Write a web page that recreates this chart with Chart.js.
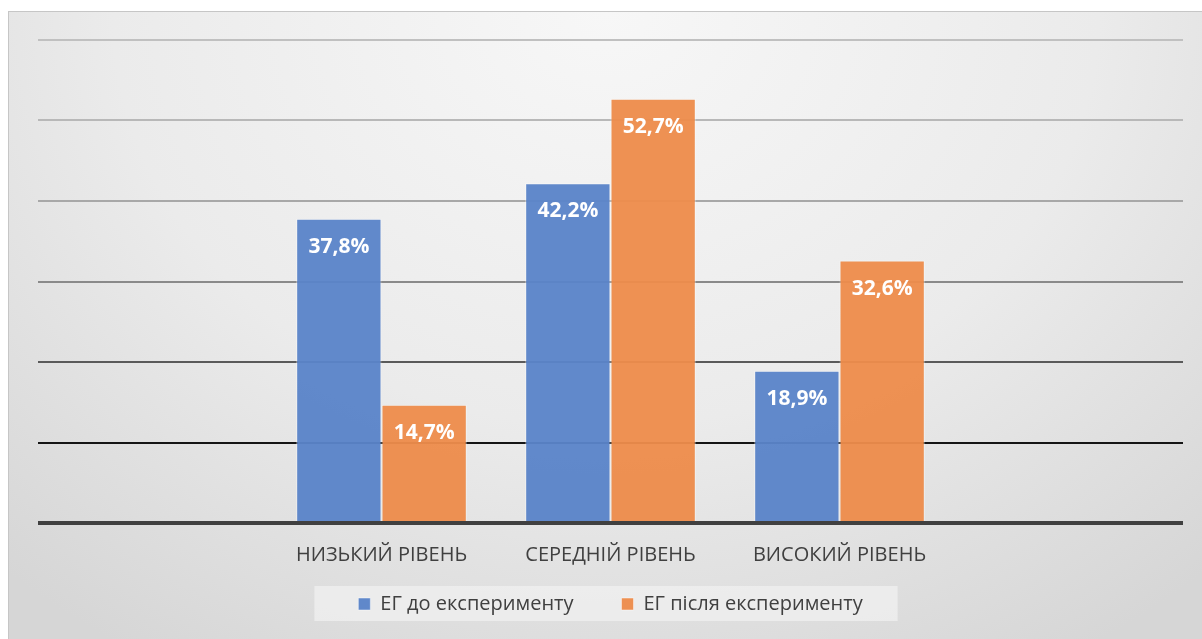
<!DOCTYPE html>
<html>
<head>
<meta charset="utf-8">
<script src="https://cdn.jsdelivr.net/npm/chart.js@4"></script>
<style>
  body { margin: 0; background: #fff; overflow: hidden; }
  #box {
    position: absolute; left: 8px; top: 11px; width: 1194px; height: 628px; overflow: hidden;
    border-left: 1px solid #c6c6c6; border-top: 1px solid #c6c6c6;
    background: radial-gradient(ellipse 75% 120% at 50% 0%, #f7f7f7 0%, #ebebeb 55%, #d6d6d6 100%);
  }
  #chart { display: block; }
</style>
</head>
<body>
<div id="box"><canvas id="chart" width="1193" height="645"></canvas></div>
<script>
const ctx = document.getElementById("chart").getContext("2d");

// категорії (крайні порожні, як у вихідній діаграмі)
const categories = ["", "НИЗЬКИЙ РІВЕНЬ", "СЕРЕДНІЙ РІВЕНЬ", "ВИСОКИЙ РІВЕНЬ", ""];
const seriesNames = ["ЕГ до експерименту", "ЕГ після експерименту"];
const before = [null, 37.8, 42.2, 18.9, null];
const after = [null, 14.7, 52.7, 32.6, null];
const yTicks = [0, 10, 20, 30, 40, 50, 60];

const gridColors = {0: '#404040', 10: '#151515', 20: '#5a5a5a', 30: '#8a8a8a', 40: '#a8a8a8', 50: '#b8b8b8', 60: '#c0c0c0'};

const legendPad = 48;
const legendShift = 33; // підняти легенду ближче до підписів осі

// підписи значень усередині стовпців
const labelsPlugin = {
    id: 'barLabels',
    afterDatasetsDraw(chart) {
        const c = chart.ctx;
        c.save();
        c.fillStyle = '#ffffff';
        c.font = 'bold 21px "Open Sans", sans-serif';
        c.textAlign = 'center';
        c.textBaseline = 'middle';
        chart.data.datasets.forEach((ds, i) => {
            chart.getDatasetMeta(i).data.forEach((bar, j) => {
                if (ds.data[j] == null) return;
                c.fillText(ds.data[j].toFixed(1).replace('.', ',') + '%', bar.x, bar.y + 28);
            });
        });
        c.restore();
    }
};

// легенда: зсув вгору + світлий фон
const legendBg = {
    id: 'legendBg',
    afterLayout(chart) {
        chart.legend.top -= legendShift;
        chart.legend.bottom -= legendShift;
    },
    beforeDraw(chart) {
        const lg = chart.legend;
        if (!lg || !lg.legendHitBoxes.length) return;
        const boxes = lg.legendHitBoxes;
        const first = boxes[0], last = boxes[boxes.length - 1];
        const cy = lg.top + legendPad + 10;
        const c = chart.ctx;
        c.save();
        c.fillStyle = 'rgba(240,240,240,0.75)';
        const x0 = first.left - 44, x1 = last.left + last.width + 35;
        c.fillRect(x0, cy - 18, x1 - x0, 35);
        c.restore();
    }
};

const data = {
    labels: categories,
    datasets: [
        {
            label: seriesNames[0],
            data: before,
            backgroundColor: 'rgba(91,132,201,0.96)',
            borderColor: 'rgba(255,255,255,0.45)',
            borderWidth: 1
        },
        {
            label: seriesNames[1],
            data: after,
            backgroundColor: 'rgba(237,141,76,0.96)',
            borderColor: 'rgba(255,255,255,0.45)',
            borderWidth: 1
        }
    ]
};

const config = {
    type: 'bar',
    data: data,
    options: {
        responsive: false,
        animation: false,
        layout: { padding: { left: 29, right: 19, top: 28, bottom: 0 } },
        datasets: { bar: { categoryPercentage: 0.745, barPercentage: 1 } },
        scales: {
            x: {
                grid: { display: false },
                border: { display: false },
                ticks: { color: '#404040', font: { family: '"Open Sans", sans-serif', size: 20 }, padding: 12 }
            },
            y: {
                min: 0, max: 60,
                afterBuildTicks(scale) { scale.ticks = yTicks.map(v => ({ value: v })); },
                ticks: { display: false },
                border: { display: false },
                grid: {
                    drawTicks: false,
                    color: (c) => gridColors[c.tick.value] || '#999',
                    lineWidth: (c) => c.tick.value === 0 ? 4 : 2
                }
            }
        },
        plugins: {
            legend: {
                position: 'bottom',
                labels: {
                    color: '#404040',
                    font: { family: '"Open Sans", sans-serif', size: 20 },
                    boxWidth: 12, boxHeight: 12,
                    padding: legendPad
                }
            },
            tooltip: { enabled: false }
        }
    },
    plugins: [labelsPlugin, legendBg]
};

const chart = new Chart(ctx, config);
</script>
</body>
</html>
